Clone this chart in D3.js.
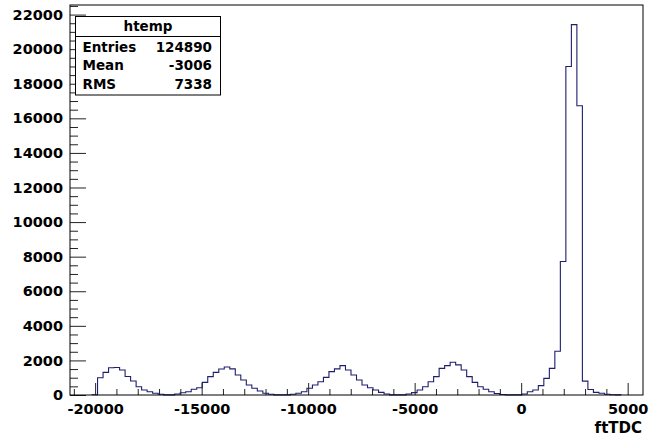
<!DOCTYPE html>
<html>
<head>
<meta charset="utf-8">
<script src="https://cdn.jsdelivr.net/npm/d3@7.9.0/dist/d3.min.js"></script>
<style>
  body { margin: 0; background: #fff; }
  svg { display: block; }
  text { font-family: "DejaVu Sans", sans-serif; font-weight: bold; fill: #000; }
</style>
</head>
<body>
<svg id="chart" width="650" height="440"></svg>
<script>
// histogram htemp, variable ftTDC
const xMin = -21180;
const xMax = 5720;
const yMax = 22554;
const counts = [
    0, 0, 0, 0, 15, 1000, 1310, 1580, 1590, 1450,
    1070, 810, 480, 290, 190, 100, 40, 10, 10, 60,
    130, 190, 330, 420, 730, 1060, 1310, 1500, 1620, 1510,
    1160, 870, 580, 390, 230, 100, 40, 10, 5, 10,
    40, 100, 190, 390, 580, 770, 1020, 1350, 1510, 1700,
    1450, 1160, 870, 580, 420, 290, 150, 60, 10, 5,
    5, 60, 140, 290, 480, 770, 1060, 1540, 1700, 1890,
    1740, 1450, 1060, 730, 480, 330, 190, 90, 30, 10,
    5, 10, 60, 190, 290, 540, 960, 1540, 2530, 7720,
    19000, 21420, 16730, 800, 320, 150, 100, 40, 15, 5,
    0, 0, 0, 0
];
const xTicks = [-20000, -15000, -10000, -5000, 0, 5000];
const yTicks = [0, 2000, 4000, 6000, 8000, 10000, 12000, 14000, 16000, 18000, 20000, 22000];
const statsTitle = 'htemp';
const statsRows = [['Entries', '124890'], ['Mean', '-3006'], ['RMS', '7338']];
const xTitle = 'ftTDC';

const svg = d3.select('#chart');
const frame = { left: 70, right: 643, top: 5, bottom: 395 };

const x = d3.scaleLinear().domain([xMin, xMax]).range([frame.left, frame.right]);
const y = d3.scaleLinear().domain([0, yMax]).range([frame.bottom, frame.top]);

const binW = (xMax - xMin) / counts.length;

// minor ticks
const xMinor = d3.range(-21000, xMax, 1000).filter(v => !xTicks.includes(v));
const yMinor = d3.range(0, yMax, 500).filter(v => !yTicks.includes(v));

const fmt = d => String(d);

// y axis (ticks drawn inward)
svg.append('g')
    .attr('transform', `translate(${frame.left},0)`)
    .call(d3.axisLeft(y).tickValues(yMinor).tickSize(-8).tickFormat(''))
    .call(g => g.select('.domain').remove());
const yAxis = svg.append('g')
    .attr('transform', `translate(${frame.left},0)`)
    .call(d3.axisLeft(y).tickValues(yTicks).tickSize(-16).tickPadding(7).tickFormat(fmt))
    .call(g => g.select('.domain').remove());

// x axis
svg.append('g')
    .attr('transform', `translate(0,${frame.bottom})`)
    .call(d3.axisBottom(x).tickValues(xMinor).tickSize(-6).tickFormat(''))
    .call(g => g.select('.domain').remove());
const xAxis = svg.append('g')
    .attr('transform', `translate(0,${frame.bottom})`)
    .call(d3.axisBottom(x).tickValues(xTicks).tickSize(-12).tickPadding(9).tickFormat(fmt))
    .call(g => g.select('.domain').remove());

svg.selectAll('.tick line').attr('stroke', '#222');
svg.selectAll('.tick text')
    .attr('font-family', '"DejaVu Sans", sans-serif')
    .attr('font-weight', 'bold')
    .attr('font-size', 14.5)
    .attr('fill', '#000');

// histogram outline, only between first and last filled bins
const first = counts.findIndex(c => c > 0);
const last = counts.length - 1 - [...counts].reverse().findIndex(c => c > 0);
const pts = [[xMin + first * binW, 0]];
for (let i = first; i <= last; i++) {
    const lo = xMin + i * binW;
    pts.push([lo, counts[i]], [lo + binW, counts[i]]);
}
pts.push([xMin + (last + 1) * binW, 0]);

svg.append('path')
    .datum(pts)
    .attr('fill', 'none')
    .attr('stroke', '#1e1e6e')
    .attr('stroke-width', 1.1)
    .attr('d', d3.line().x(d => x(d[0])).y(d => y(d[1])));

// frame
svg.append('rect')
    .attr('x', frame.left)
    .attr('y', frame.top)
    .attr('width', frame.right - frame.left)
    .attr('height', frame.bottom - frame.top)
    .attr('fill', 'none')
    .attr('stroke', '#000')
    .attr('stroke-width', 1);

// axis title
svg.append('text')
    .attr('x', 642)
    .attr('y', 433)
    .attr('text-anchor', 'end')
    .attr('font-size', 15)
    .text(xTitle);

// stats box
const box = { x: 75.5, y: 16.5, w: 145, h: 78.5, head: 20 };
const stats = svg.append('g');
stats.append('rect')
    .attr('x', box.x).attr('y', box.y)
    .attr('width', box.w).attr('height', box.h)
    .attr('fill', '#fff')
    .attr('stroke', '#000');
stats.append('line')
    .attr('x1', box.x).attr('x2', box.x + box.w)
    .attr('y1', box.y + box.head).attr('y2', box.y + box.head)
    .attr('stroke', '#000');
stats.append('text')
    .attr('x', box.x + box.w / 2)
    .attr('y', 31)
    .attr('text-anchor', 'middle')
    .attr('font-size', 13.5)
    .text(statsTitle);
statsRows.forEach((r, i) => {
    const by = 51.5 + i * 18.8;
    stats.append('text')
        .attr('x', 82.5).attr('y', by)
        .attr('font-size', 13.5)
        .text(r[0]);
    stats.append('text')
        .attr('x', 212).attr('y', by)
        .attr('text-anchor', 'end')
        .attr('font-size', 13.5)
        .text(r[1]);
});
</script>
</body>
</html>
